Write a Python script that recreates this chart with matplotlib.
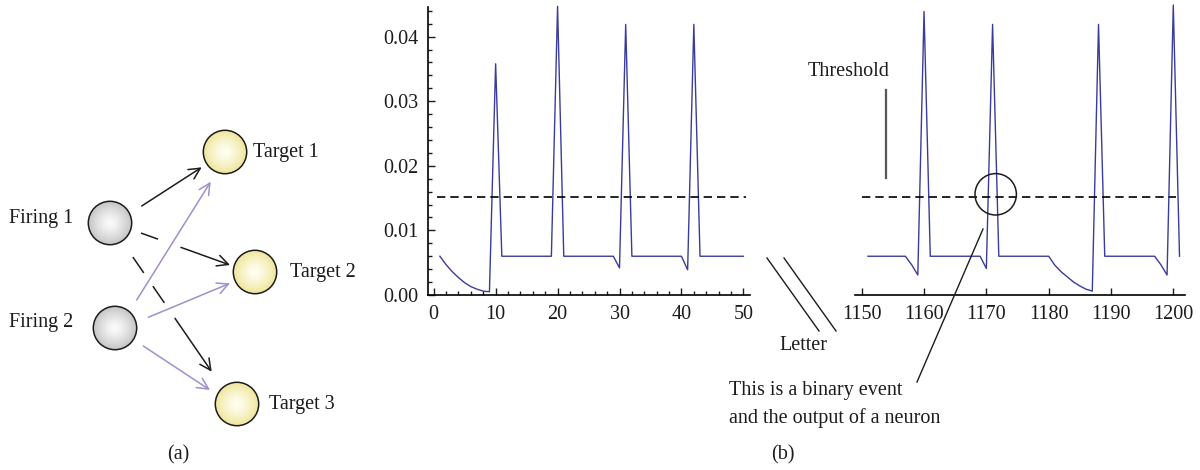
"""Spiking neuron diagram (a) and membrane trace with threshold (b)."""

import matplotlib

matplotlib.use("Agg")
import matplotlib.pyplot as plt
import numpy as np
from matplotlib.colors import to_rgb
from matplotlib.patches import Circle
from matplotlib.ticker import MultipleLocator, FormatStrFormatter

plt.rcParams["font.family"] = ["Liberation Serif", "DejaVu Serif"]

# --- trace data (b) ---------------------------------------------------------
left_x = list(range(1, 51))
left_y = [
    0.0060, 0.0047, 0.0036, 0.0027, 0.0019, 0.0013, 0.0009, 0.0006, 0.0005,
    0.0358,
    0.0060, 0.0060, 0.0060, 0.0060, 0.0060, 0.0060, 0.0060, 0.0060, 0.0060,
    0.0447,
    0.0060, 0.0060, 0.0060, 0.0060, 0.0060, 0.0060, 0.0060, 0.0060, 0.0060,
    0.0042, 0.0419,
    0.0060, 0.0060, 0.0060, 0.0060, 0.0060, 0.0060, 0.0060, 0.0060, 0.0060,
    0.0039, 0.0419,
    0.0060, 0.0060, 0.0060, 0.0060, 0.0060, 0.0060, 0.0060, 0.0060,
]
right_x = list(range(1151, 1202))
right_y = [
    0.0060, 0.0060, 0.0060, 0.0060, 0.0060, 0.0060, 0.0060,
    0.0047, 0.0031, 0.0439,
    0.0060, 0.0060, 0.0060, 0.0060, 0.0060, 0.0060, 0.0060, 0.0060, 0.0060,
    0.0041, 0.0419,
    0.0060, 0.0060, 0.0060, 0.0060, 0.0060, 0.0060, 0.0060, 0.0060, 0.0060,
    0.0046, 0.0036, 0.0028, 0.0020, 0.0014, 0.0009, 0.0006,
    0.0419,
    0.0060, 0.0060, 0.0060, 0.0060, 0.0060, 0.0060, 0.0060, 0.0060, 0.0060,
    0.0047, 0.0031, 0.0449, 0.0060,
]
threshold = 0.0152
left_thr_x = [0.5, 50.5]
right_thr_x = [1150, 1200.5]
left_xticks = [0, 10, 20, 30, 40, 50]
right_xticks = [1150, 1160, 1170, 1180, 1190, 1200]
yticks = [0.00, 0.01, 0.02, 0.03, 0.04]

# --- network diagram (a), figure pixel coordinates ---------------------------
firing_names = ["Firing 1", "Firing 2"]
firing_xy = [(110, 223), (115, 328)]
target_names = ["Target 1", "Target 2", "Target 3"]
target_xy = [(225, 152), (255, 272), (237, 404)]
target_label_x = [253, 290, 269]
node_r = 21.7

LINE_BLUE = "#3a3c9c"
PURPLE = "#9a92d0"
INK = "#1c1c1c"
FS = 14.5

fig = plt.figure(figsize=(12, 4.7), dpi=100)

# overlay in pixel coordinates for the diagram and annotations
over = fig.add_axes([0, 0, 1, 1])
over.set_xlim(0, 1200)
over.set_ylim(470, 0)
over.axis("off")
over.patch.set_alpha(0)


def gradient_circle(ax, cx, cy, r, inner, outer):
    n = 80
    yy, xx = np.mgrid[-1:1:n * 1j, -1:1:n * 1j]
    d = np.clip(np.hypot(xx, yy), 0, 1)[..., None] ** 1.3
    c0 = np.array(to_rgb(inner))
    c1 = np.array(to_rgb(outer))
    img = c0 + (c1 - c0) * d
    circ = Circle((cx, cy), r, facecolor="none", edgecolor=INK, lw=1.1, zorder=4)
    ax.add_patch(circ)
    im = ax.imshow(img, extent=(cx - r, cx + r, cy + r, cy - r), zorder=3,
                   interpolation="bilinear", aspect="auto")
    im.set_clip_path(circ)


def arrow(ax, start, end, color):
    ax.annotate("", xy=end, xytext=start,
                arrowprops=dict(arrowstyle="->", color=color, lw=1.1,
                                shrinkA=0, shrinkB=0, mutation_scale=20))


def broken_arrow(ax, start, end, pieces, color):
    # pieces: (t0, t1) fractions along the line; the last one gets the head
    p0 = np.array(start, float)
    p1 = np.array(end, float)
    for t0, t1 in pieces[:-1]:
        a, b = p0 + (p1 - p0) * t0, p0 + (p1 - p0) * t1
        ax.plot([a[0], b[0]], [a[1], b[1]], color=color, lw=1.1)
    t0, t1 = pieces[-1]
    arrow(ax, p0 + (p1 - p0) * t0, p0 + (p1 - p0) * t1, color)


for (cx, cy) in firing_xy:
    gradient_circle(over, cx, cy, node_r, "#fbfbfb", "#c4c4c4")
for (cx, cy) in target_xy:
    gradient_circle(over, cx, cy, node_r, "#fffff4", "#efe59a")

for name, (cx, cy) in zip(firing_names, firing_xy):
    over.text(73, cy - 5, name, ha="right", va="center", fontsize=FS, color=INK)
for name, lx, (cx, cy) in zip(target_names, target_label_x, target_xy):
    over.text(lx, cy, name, ha="left", va="center", fontsize=FS, color=INK)

arrow(over, (141.7, 206), (201.7, 167.3), INK)
broken_arrow(over, (141.7, 233.3), (230, 265), [(0, 0.177), (0.445, 1)], INK)
broken_arrow(over, (133.3, 257.7), (211.7, 371.7),
             [(0, 0.128), (0.255, 0.391), (0.532, 1)], INK)
arrow(over, (136.7, 300), (210.7, 181.7), PURPLE)
arrow(over, (148.3, 317.3), (230, 283.3), PURPLE)
arrow(over, (143.3, 346), (210, 390), PURPLE)

over.text(178, 455, "(a)", ha="center", va="center", fontsize=FS, color=INK)
over.text(783, 455, "(b)", ha="center", va="center", fontsize=FS, color=INK)

# --- the two trace panels -----------------------------------------------------
bottom = (470 - 295) / 470
height = (295 - 6.7) / 470
ax1 = fig.add_axes([428 / 1200, bottom, 322 / 1200, height])
ax2 = fig.add_axes([855 / 1200, bottom, 330 / 1200, height])
ymax = 0.04464

for ax in (ax1, ax2):
    ax.patch.set_alpha(0)
    ax.set_ylim(0, ymax)
    for side in ("top", "right"):
        ax.spines[side].set_visible(False)
    ax.spines["bottom"].set_linewidth(1.2)
    ax.spines["left"].set_linewidth(1.2)
    ax.tick_params(which="both", direction="in", labelsize=FS, width=1.0,
                   colors=INK, pad=7)
    ax.tick_params(which="major", length=5)
    ax.tick_params(which="minor", length=3)

ax1.plot(left_x, left_y, color=LINE_BLUE, lw=1.0, clip_on=False)
ax1.plot(left_thr_x, [threshold, threshold], color="black", lw=1.2,
         dashes=(5, 3))
ax1.set_xlim(-0.92, 51.07)
ax1.set_xticks(left_xticks)
ax1.xaxis.set_minor_locator(MultipleLocator(2))
ax1.set_yticks(yticks)
ax1.yaxis.set_minor_locator(MultipleLocator(0.002))
ax1.yaxis.set_major_formatter(FormatStrFormatter("%.2f"))

ax2.plot(right_x, right_y, color=LINE_BLUE, lw=1.0, clip_on=False)
ax2.plot(right_thr_x, [threshold, threshold], color="black", lw=1.2,
         dashes=(5, 3))
ax2.set_xlim(1148.92, 1201.88)
ax2.set_xticks(right_xticks)
ax2.spines["left"].set_visible(False)
ax2.set_yticks([])

# --- annotations ---------------------------------------------------------------
over.set_zorder(5)
over.text(849, 72, "Threshold", ha="center", va="center", fontsize=FS, color=INK)
over.plot([886, 886], [90, 178], color="#555555", lw=1.6)
over.plot([767, 819], [258, 331], color=INK, lw=1.0)
over.plot([784, 836], [258, 331], color=INK, lw=1.0)
over.text(803, 345, "Letter", ha="center", va="center", fontsize=FS, color=INK)
over.add_patch(Circle((995.7, 194.3), 20.7, facecolor="none", edgecolor=INK,
                      lw=1.1))
over.plot([983, 917], [229, 382], color=INK, lw=1.0)
over.text(729, 390, "This is a binary event", ha="left", va="center",
          fontsize=FS, color=INK)
over.text(729, 418, "and the output of a neuron", ha="left", va="center",
          fontsize=FS, color=INK)

fig.savefig("out.png", dpi=100)
